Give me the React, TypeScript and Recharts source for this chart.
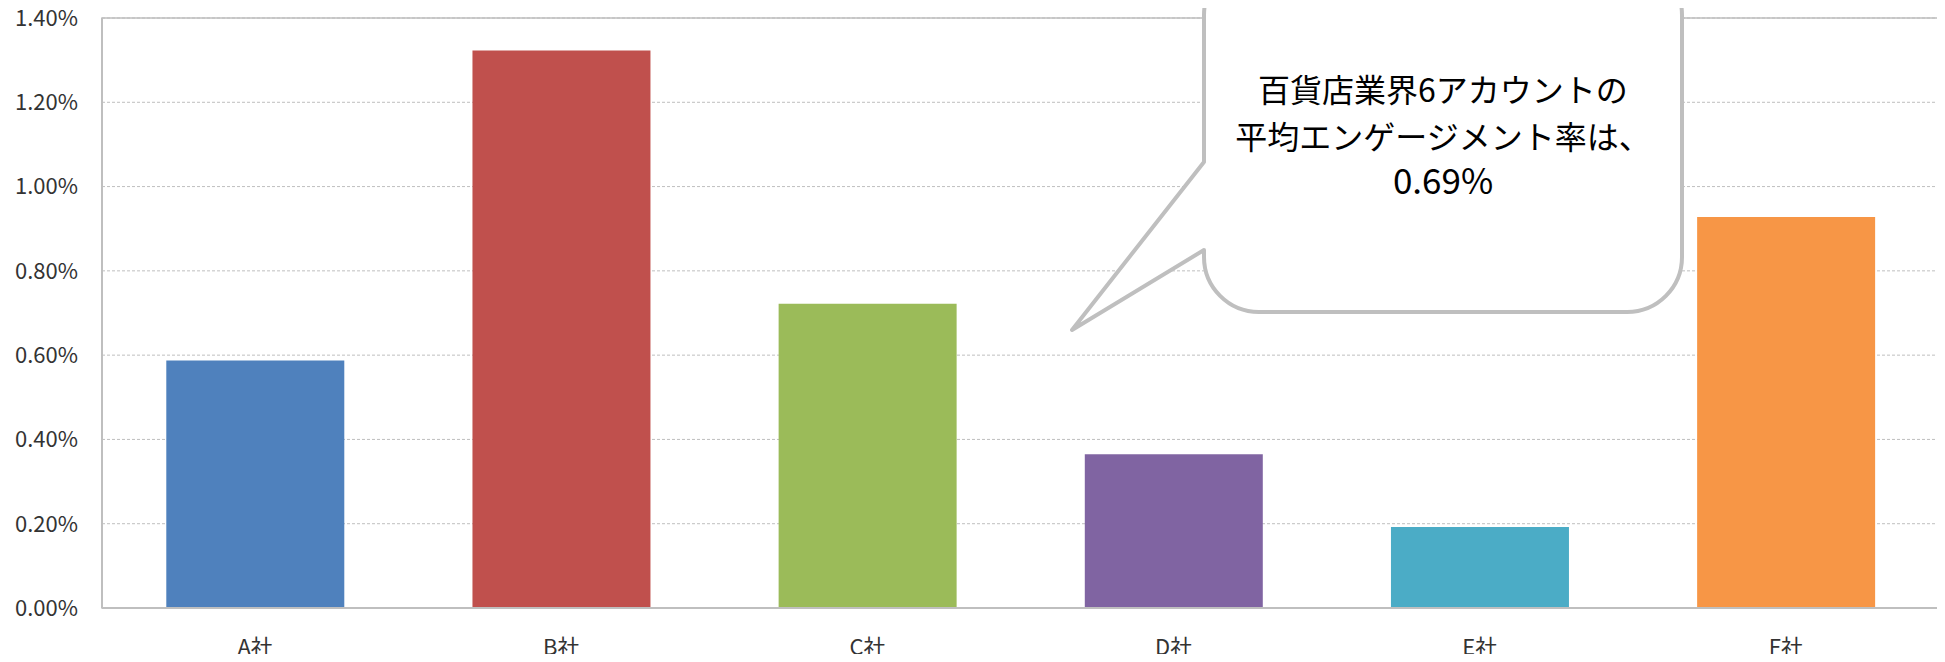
import React from 'react';
import { BarChart, Bar, XAxis, YAxis, CartesianGrid, ReferenceArea, Cell } from 'recharts';

const companies = ['A社', 'B社', 'C社', 'D社', 'E社', 'F社'];
const engagementRates = [0.587, 1.323, 0.722, 0.365, 0.192, 0.928]; // in %
const barColors = ['#4F81BD', '#C0504D', '#9BBB59', '#8064A2', '#4BACC6', '#F79646'];
const yTicks = [0, 0.2, 0.4, 0.6, 0.8, 1.0, 1.2, 1.4];
const calloutLines = ['百貨店業界6アカウントの', '平均エンゲージメント率は、', '0.69%'];

const data = companies.map((name, i) => ({ name, value: engagementRates[i] }));

const FONT = '"Noto Sans CJK JP", "Noto Sans", sans-serif';
const GRID = '#BFBFBF';

// speech bubble drawn on top of the chart
const Callout: React.FC = () => {
  const L = 1204, R = 1682, T = -40, B = 312, r = 55;
  const p1 = 162, p2 = 250, tipX = 1072, tipY = 330;
  const d = `M ${L + r} ${T} H ${R - r} A ${r} ${r} 0 0 1 ${R} ${T + r} V ${B - r} A ${r} ${r} 0 0 1 ${R - r} ${B} H ${L + r} A ${r} ${r} 0 0 1 ${L} ${B - r} V ${p2} L ${tipX} ${tipY} L ${L} ${p1} V ${T + r} A ${r} ${r} 0 0 1 ${L + r} ${T} Z`;
  const cx = 1443;
  const ys = [102, 149, 194];
  const sizes = [32, 32, 35];
  return (
    <svg width={1945} height={662} style={{ position: 'absolute', left: 0, top: 0, pointerEvents: 'none' }}>
      <path d={d} fill="#FFFFFF" stroke={GRID} strokeWidth={4} strokeLinejoin="round" />
      {calloutLines.map((t, i) => (
        <text key={i} x={cx} y={ys[i]} textAnchor="middle" fontSize={sizes[i]} fontFamily={FONT} fill="#000">
          {t}
        </text>
      ))}
    </svg>
  );
};

export default function App() {
  return (
    <div style={{ position: 'relative', width: 1945, height: 662, margin: -8, background: '#fff' }}>
      <BarChart
        width={1945}
        height={662}
        data={data}
        margin={{ top: 18, right: 6, left: 0, bottom: 0 }}
        barCategoryGap="21%"
      >
        <CartesianGrid vertical={false} stroke={GRID} strokeDasharray="3 2" />
        <ReferenceArea y1={0} y2={1.4} fill="none" stroke={GRID} strokeWidth={1.5} />
        <XAxis
          dataKey="name"
          axisLine={{ stroke: GRID, strokeWidth: 2 }}
          tickLine={false}
          tickSize={0}
          tickMargin={31}
          height={54}
          tick={{ fontSize: 22, fill: '#333', fontFamily: FONT }}
        />
        <YAxis
          domain={[0, 1.4]}
          ticks={yTicks}
          tickFormatter={(v: number) => `${v.toFixed(2)}%`}
          axisLine={{ stroke: GRID, strokeWidth: 2 }}
          tickLine={false}
          tickSize={0}
          tickMargin={24}
          width={102}
          tick={{ fontSize: 22, fill: '#333', fontFamily: FONT }}
        />
        <Bar dataKey="value" isAnimationActive={false}>
          {data.map((_, i) => (
            <Cell key={i} fill={barColors[i]} />
          ))}
        </Bar>
      </BarChart>
      <Callout />
    </div>
  );
}
